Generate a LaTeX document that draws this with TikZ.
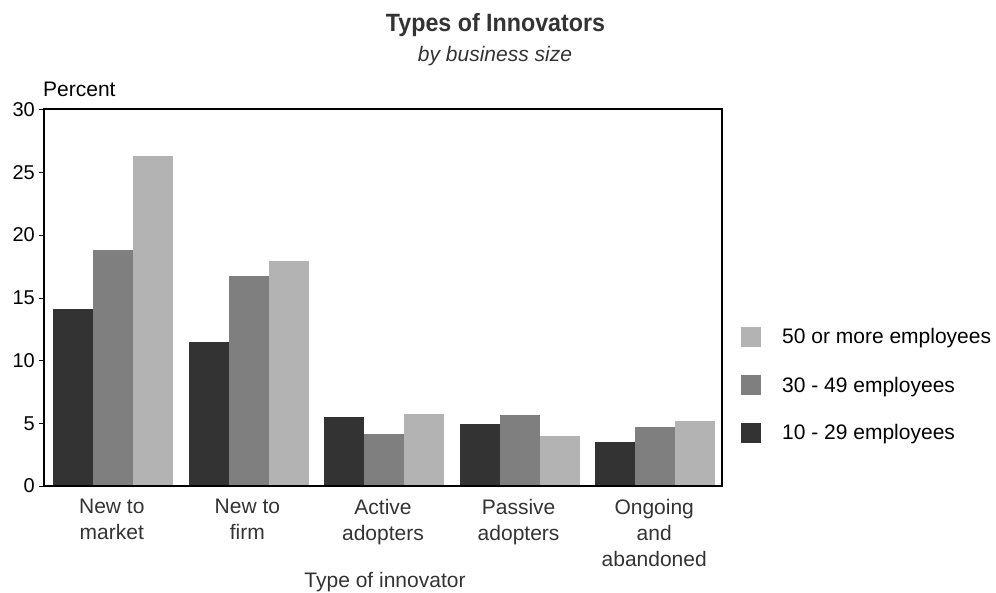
\documentclass[tikz,border=0pt]{standalone}
\usepackage{fontspec}
\setmainfont{Liberation Sans}
\newfontfamily\titlefont[FakeStretch=0.93]{Liberation Sans}

\definecolor{sizesmall}{HTML}{333333}
\definecolor{sizemid}{HTML}{7F7F7F}
\definecolor{sizebig}{HTML}{B3B3B3}
\definecolor{labelgray}{HTML}{333333}

\tikzset{
  catlabel/.style={anchor=north,inner sep=0pt,align=center,text=labelgray,font=\fontsize{21}{26}\selectfont},
  ticklabel/.style={anchor=east,inner sep=0pt,font=\fontsize{20}{24}\selectfont},
  legendtext/.style={anchor=base west,inner sep=0pt,font=\fontsize{21}{25}\selectfont}
}

\begin{document}
\begin{tikzpicture}[x=1pt,y=1pt,yscale=-1,xscale=1]
\useasboundingbox (0,0) rectangle (996,593);

% Title
\draw (495.5,32) node [anchor=base,inner sep=0pt,text=labelgray] (title) {\titlefont\bfseries\fontsize{25}{30}\selectfont Types of Innovators};
\draw (495,61.5) node [anchor=base,inner sep=0pt,text=labelgray] (subtitle) {\fontsize{21}{25}\selectfont\itshape by business size};

%Shape: Bars New to market
\fill [sizesmall] (53,486) rectangle (93,309);
\fill [sizemid] (93,486) rectangle (133,250);
\fill [sizebig] (133,486) rectangle (173,156);
%Shape: Bars New to firm
\fill [sizesmall] (188.5,486) rectangle (228.5,342);
\fill [sizemid] (228.5,486) rectangle (268.5,276);
\fill [sizebig] (268.5,486) rectangle (308.5,261);
%Shape: Bars Active adopters
\fill [sizesmall] (324,486) rectangle (364,417);
\fill [sizemid] (364,486) rectangle (404,434);
\fill [sizebig] (404,486) rectangle (444,414);
%Shape: Bars Passive adopters
\fill [sizesmall] (459.5,486) rectangle (499.5,424);
\fill [sizemid] (499.5,486) rectangle (539.5,415);
\fill [sizebig] (539.5,486) rectangle (579.5,436);
%Shape: Bars Ongoing and abandoned
\fill [sizesmall] (595,486) rectangle (635,442);
\fill [sizemid] (635,486) rectangle (675,427);
\fill [sizebig] (675,486) rectangle (715,421);

%Shape: Frame
\draw [line width=2pt] (44,109.5) rectangle (722,486);

%Shape: Ticks
\draw (38.5,486) -- (44,486);
\draw (38.5,423.25) -- (44,423.25);
\draw (38.5,360.5) -- (44,360.5);
\draw (38.5,297.75) -- (44,297.75);
\draw (38.5,235) -- (44,235);
\draw (38.5,172.25) -- (44,172.25);
\draw (38.5,109.5) -- (44,109.5);

% Text Node
\draw (35,486) node [ticklabel] (t0) {0};
\draw (35,423.25) node [ticklabel] (t5) {5};
\draw (35,360.5) node [ticklabel] (t10) {10};
\draw (35,297.75) node [ticklabel] (t15) {15};
\draw (35,235) node [ticklabel] (t20) {20};
\draw (35,172.25) node [ticklabel] (t25) {25};
\draw (35,109.5) node [ticklabel] (t30) {30};
% Text Node
\draw (43,97) node [anchor=base west,inner sep=0pt,font=\fontsize{21}{25}\selectfont] (ylabel) {Percent};

% Text Node
\draw (111.8,499) node [catlabel] (catmarket) {New to\\market};
\draw (247.4,499) node [catlabel] (catfirm) {New to\\firm};
\draw (383,499) node [catlabel] (catactive) {Active\\adopters};
\draw (518.6,499) node [catlabel] (catpassive) {Passive\\adopters};
\draw (654.2,499) node [catlabel] (catongoing) {Ongoing\\and\\abandoned};
% Text Node
\draw (385,587) node [anchor=base,inner sep=0pt,text=labelgray,font=\fontsize{21}{25}\selectfont] (xlabel) {Type of innovator};

%Shape: Legend keys
\fill [sizebig] (741,327) rectangle (761,347);
\fill [sizemid] (741,375) rectangle (761,395);
\fill [sizesmall] (741,423) rectangle (761,443);
% Text Node
\draw (782,344) node [legendtext] (legbig) {50 or more employees};
\draw (782,392) node [legendtext] (legmid) {30 - 49 employees};
\draw (782,439.5) node [legendtext] (legsmall) {10 - 29 employees};

\end{tikzpicture}
\end{document}
